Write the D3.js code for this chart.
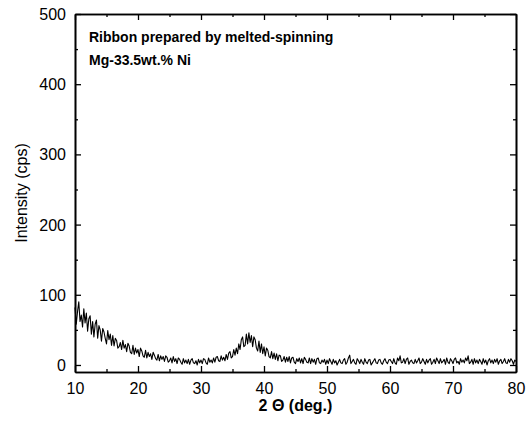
<!DOCTYPE html>
<html>
<head>
<meta charset="utf-8">
<script src="https://cdn.jsdelivr.net/npm/d3@7"></script>
<style>
  body { margin: 0; background: #fff; overflow: hidden; }
  svg { display: block; }
  svg text { font-family: "Liberation Sans", Arial, sans-serif; }
</style>
</head>
<body>
<script>
// XRD scan of melt-spun Mg-33.5wt.% Ni ribbon, step 0.2 deg
const startAngle = 10;
const stepAngle = 0.2;
const intensity = [
  82, 58, 76, 90, 62, 71, 54, 80, 60, 74,
  48, 66, 70, 44, 62, 40, 58, 64, 38, 56,
  50, 34, 52, 47, 38, 30, 49, 36, 44, 28,
  42, 27, 38, 35, 24, 26, 32, 22, 35, 24,
  29, 19, 31, 27, 18, 16, 28, 15, 24, 17,
  22, 12, 24, 20, 13, 11, 21, 10, 18, 12,
  16, 8, 18, 14, 9, 7, 15, 6, 13, 8,
  12, 5, 13, 11, 4, 6, 10, 3, 12, 5,
  9, 2, 10, 8, 4, 1, 9, 3, 7, 2,
  8, 1, 7, 9, 3, 2, 6, 0, 8, 3,
  7, 2, 9, 8, 3, 1, 10, 4, 7, 3,
  10, 4, 11, 12, 6, 5, 13, 7, 11, 6,
  15, 8, 17, 19, 10, 12, 22, 14, 24, 16,
  30, 22, 36, 40, 26, 28, 44, 30, 46, 32,
  42, 26, 40, 36, 24, 20, 34, 18, 30, 16,
  26, 13, 24, 21, 12, 10, 19, 9, 17, 8,
  16, 6, 14, 13, 5, 7, 12, 4, 11, 5,
  12, 3, 10, 11, 4, 2, 9, 5, 10, 3,
  9, 2, 11, 8, 4, 3, 10, 2, 9, 4,
  8, 1, 9, 10, 3, 2, 7, 4, 8, 1,
  7, 2, 9, 5, 1, 8, 3, 6, 0, 4,
  8, 3, 2, 7, 9, 1, 4, 10, 14, 2,
  5, 8, 3, 1, 9, 6, 2, 8, 4, 1,
  9, 4, 2, 7, 8, 0, 3, 6, 9, 3,
  2, 7, 8, 3, 1, 6, 9, 4, 2, 7,
  8, 5, 2, 9, 3, 1, 10, 6, 13, 3,
  4, 9, 2, 8, 10, 1, 5, 7, 3, 2,
  8, 3, 6, 10, 2, 4, 9, 5, 1, 8,
  3, 7, 9, 1, 4, 8, 2, 10, 6, 2,
  9, 3, 5, 8, 1, 10, 4, 2, 9, 6,
  2, 8, 10, 3, 5, 1, 9, 4, 7, 3,
  10, 6, 13, 2, 4, 8, 1, 9, 3, 7,
  2, 8, 5, 1, 9, 3, 7, 0, 6, 9,
  3, 7, 2, 8, 4, 9, 1, 6, 8, 2,
  5, 9, 3, 2, 8, 4, 9, 6, 1, 7,
  5
];
const xMajor = [10, 20, 30, 40, 50, 60, 70, 80];
const xMinor = [15, 25, 35, 45, 55, 65, 75];
const yMajor = [0, 100, 200, 300, 400, 500];
const yMinor = [50, 150, 250, 350, 450];
const noteLines = ["Ribbon prepared by melted-spinning", "Mg-33.5wt.% Ni"];

const width = 529, height = 422;
const margin = { top: 14, right: 13, bottom: 50, left: 75 };
const innerWidth = width - margin.left - margin.right;
const innerHeight = height - margin.top - margin.bottom;

const svg = d3.select("body").append("svg")
  .attr("width", width)
  .attr("height", height);

const g = svg.append("g")
  .attr("transform", `translate(${margin.left},${margin.top})`);

const x = d3.scaleLinear().domain([10, 80]).range([0, innerWidth]);
const y = d3.scaleLinear().domain([-10, 500]).range([innerHeight, 0]);

const data = intensity.map((v, i) => ({ a: startAngle + i * stepAngle, v: v }));

// pattern line
g.append("path")
  .datum(data)
  .attr("fill", "none")
  .attr("stroke", "#000")
  .attr("stroke-width", 1.1)
  .attr("stroke-linejoin", "round")
  .attr("d", d3.line().x(d => x(d.a)).y(d => y(d.v)));

// axes, ticks pointing inwards on all four sides
function styleAxis(sel) {
  sel.select(".domain").attr("stroke-width", 1.6);
  sel.selectAll(".tick line").attr("stroke-width", 1.3);
  sel.selectAll("text").attr("font-size", 16).attr("fill", "#000")
    .style("font-family", "Liberation Sans, Arial, sans-serif");
}
function noLabels(sel) {
  sel.selectAll(".tick text").remove();
}

g.append("g").attr("transform", `translate(0,${innerHeight})`)
  .call(d3.axisBottom(x).tickValues(xMajor).tickSize(-6).tickSizeOuter(0))
  .call(styleAxis)
  .call(s => s.selectAll(".tick text").attr("dy", null).attr("y", 22));
g.append("g").attr("transform", `translate(0,${innerHeight})`)
  .call(d3.axisBottom(x).tickValues(xMinor).tickSize(-3).tickSizeOuter(0))
  .call(styleAxis).call(noLabels);
g.append("g")
  .call(d3.axisTop(x).tickValues(xMajor).tickSize(-6).tickSizeOuter(0))
  .call(styleAxis).call(noLabels);
g.append("g")
  .call(d3.axisTop(x).tickValues(xMinor).tickSize(-3).tickSizeOuter(0))
  .call(styleAxis).call(noLabels);

g.append("g")
  .call(d3.axisLeft(y).tickValues(yMajor).tickSize(-6).tickSizeOuter(0).tickPadding(9))
  .call(styleAxis)
  .call(s => s.selectAll(".tick text").attr("dy", null).attr("y", 5.5));
g.append("g")
  .call(d3.axisLeft(y).tickValues(yMinor).tickSize(-3).tickSizeOuter(0))
  .call(styleAxis).call(noLabels);
g.append("g").attr("transform", `translate(${innerWidth},0)`)
  .call(d3.axisRight(y).tickValues(yMajor).tickSize(-6).tickSizeOuter(0))
  .call(styleAxis).call(noLabels);
g.append("g").attr("transform", `translate(${innerWidth},0)`)
  .call(d3.axisRight(y).tickValues(yMinor).tickSize(-3).tickSizeOuter(0))
  .call(styleAxis).call(noLabels);

// axis titles
svg.append("text")
  .attr("x", margin.left + innerWidth / 2)
  .attr("y", 411)
  .attr("text-anchor", "middle")
  .attr("font-size", 16)
  .attr("font-weight", "bold")
  .text("2 \u0398 (deg.)");

svg.append("text")
  .attr("transform", `translate(27,${margin.top + innerHeight / 2}) rotate(-90)`)
  .attr("text-anchor", "middle")
  .attr("font-size", 16)
  .text("Intensity (cps)");

// annotation
svg.append("g").selectAll("text")
  .data(noteLines)
  .enter()
  .append("text")
  .attr("x", 89)
  .attr("y", (d, i) => 42 + i * 23)
  .attr("font-size", 14)
  .attr("font-weight", "bold")
  .text(d => d);
</script>
</body>
</html>
